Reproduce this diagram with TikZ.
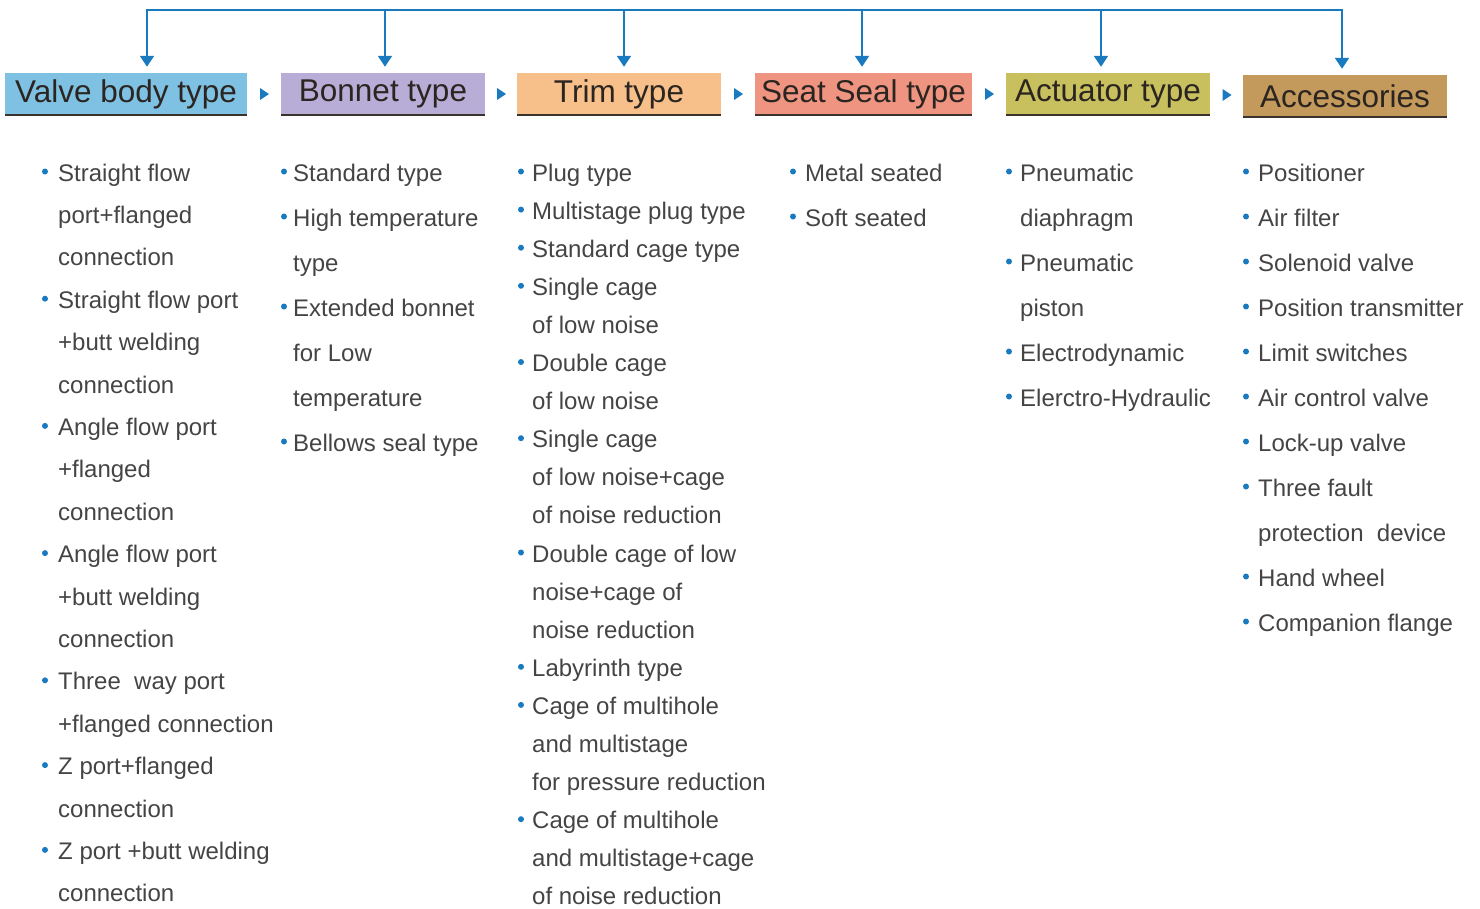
\documentclass[tikz,border=0pt]{standalone}
\usepackage{fontspec}
\setmainfont{Liberation Sans}
\usetikzlibrary{arrows.meta,calc}
\definecolor{lblue}{HTML}{1A7ABF}
\definecolor{hA}{HTML}{7FC1E3}
\definecolor{hB}{HTML}{B7ADD6}
\definecolor{hC}{HTML}{F7C08A}
\definecolor{hD}{HTML}{EE9480}
\definecolor{hE}{HTML}{C8BF5E}
\definecolor{hF}{HTML}{C4995C}
\definecolor{htext}{HTML}{2A2520}
\definecolor{hline}{HTML}{3A332C}
\definecolor{itext}{HTML}{444444}
\newcommand\itemcol[5]{%
  \foreach \b/\t [count=\i from 0] in {#5} {%
    \pgfmathsetmacro\yy{181+#4*\i}%
    \node[itemtext] (#1t\i) at (#3,\yy) {\t};
    \ifnum\b=1 \node[bul] (#1b\i) at (#2,\yy-9.5) {};\fi
  }}
\begin{document}
\begin{tikzpicture}[x=1pt,y=-1pt,
  head/.style={minimum height=42pt, inner sep=0pt, text=htext,
    font=\fontsize{31.5}{33}\selectfont},
  baseline line/.style={draw=hline, line width=2pt},
  drop/.style={draw=lblue, line width=2pt, -{Triangle[width=14pt,length=11pt]}, shorten >=6pt},
  topline/.style={draw=lblue, line width=2pt, line cap=rect},
  tri/.style={fill=lblue},
  itemtext/.style={anchor=base west, inner sep=0pt, text=itext,
    font=\fontsize{24}{26}\selectfont},
  bul/.style={circle, fill=lblue, inner sep=0pt, minimum size=6pt}]
\useasboundingbox (0,0) rectangle (1480,908);

% header boxes
\node[head, fill=hA, minimum width=242pt] (h1) at (126,94) {Valve body type};
\node[head, fill=hB, minimum width=204pt] (h2) at (383,94) {Bonnet type};
\node[head, fill=hC, minimum width=204pt] (h3) at (619,94) {Trim type};
\node[head, fill=hD, minimum width=217pt] (h4) at (863.5,94) {Seat Seal type};
\node[head, fill=hE, minimum width=204pt] (h5) at (1108,94) {Actuator type};
\node[head, fill=hF, minimum width=204pt] (h6) at (1345,96) {Accessories};
\foreach \h in {h1,h2,h3,h4,h5,h6}
  \draw[baseline line] (\h.south west) -- (\h.south east);

% small triangles between boxes
\foreach \a/\c [count=\k] in {h1/h2,h2/h3,h3/h4,h4/h5,h5/h6} {
  \coordinate (m\k) at ($(\a.east)!0.5!(\c.west)$);
  \fill[tri] ($(m\k)+(-4,-6)$) -- ($(m\k)+(5,0)$) -- ($(m\k)+(-4,6)$) -- cycle;
}

% top distribution line
\coordinate (d1) at (147,10);
\coordinate (d2) at (385,10);
\coordinate (d3) at (624,10);
\coordinate (d4) at (862,10);
\coordinate (d5) at (1101,10);
\coordinate (d6) at (1342,10);
\draw[topline] (d1) -- (d6);
\foreach \k in {1,...,6}
  \draw[drop] (d\k) -- (d\k |- h\k.north);

% item columns
\itemcol{ca}{45}{58}{42.4}{1/Straight flow,0/port+flanged,0/connection,
  1/Straight flow port,0/+butt welding,0/connection,
  1/Angle flow port,0/+flanged,0/connection,
  1/Angle flow port,0/+butt welding,0/connection,
  1/Three~ way port,0/+flanged connection,
  1/Z port+flanged,0/connection,
  1/Z port +butt welding,0/connection}
\itemcol{cb}{284}{293}{45}{1/Standard type,1/High temperature,0/type,
  1/Extended bonnet,0/for Low,0/temperature,1/Bellows seal type}
\itemcol{cc}{521}{532}{38.1}{1/Plug type,1/Multistage plug type,1/Standard cage type,
  1/Single cage,0/of low noise,
  1/Double cage,0/of low noise,
  1/Single cage,0/of low noise+cage,0/of noise reduction,
  1/Double cage of low,0/noise+cage of,0/noise reduction,
  1/Labyrinth type,
  1/Cage of multihole,0/and multistage,0/for pressure reduction,
  1/Cage of multihole,0/and multistage+cage,0/of noise reduction}
\itemcol{cd}{793}{805}{45}{1/Metal seated,1/Soft seated}
\itemcol{ce}{1009}{1020}{45}{1/Pneumatic,0/diaphragm,1/Pneumatic,0/piston,
  1/Electrodynamic,1/Elerctro-Hydraulic}
\itemcol{cf}{1246}{1258}{45}{1/Positioner,1/Air filter,1/Solenoid valve,
  1/Position transmitter,1/Limit switches,1/Air control valve,1/Lock-up valve,
  1/Three fault,0/protection~ device,1/Hand wheel,1/Companion flange}
\end{tikzpicture}
\end{document}
